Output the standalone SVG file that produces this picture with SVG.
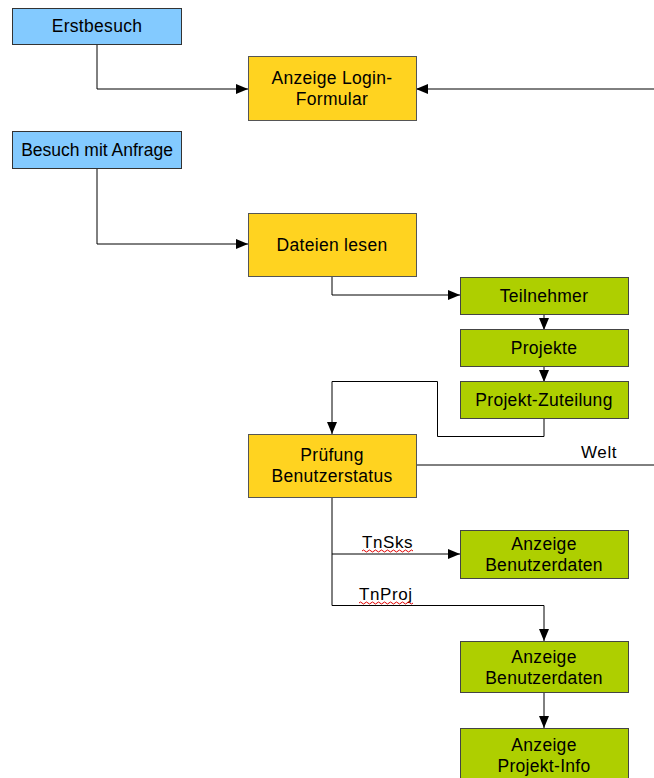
<svg xmlns="http://www.w3.org/2000/svg" width="654" height="778" viewBox="0 0 654 778">
<style>
.blue{fill:#83caff;stroke:#333;stroke-width:1}
.orange{fill:#ffd320;stroke:#555;stroke-width:1}
.green{fill:#aecf00;stroke:#444;stroke-width:1}
text{font-family:"Liberation Sans",Arial,sans-serif;font-size:17.5px;fill:#000;text-anchor:middle;letter-spacing:0.3px}
.lbl{text-anchor:start;font-size:17px;letter-spacing:0.6px}
.c{fill:none;stroke:#000;stroke-width:1}
.w{fill:none;stroke:#e00000;stroke-width:1}
</style>
<defs>
<marker id="a" viewBox="0 0 12 10" refX="12" refY="5" markerWidth="12" markerHeight="10" markerUnits="userSpaceOnUse" orient="auto">
<path d="M0,0 L12,5 L0,10 Z" fill="#000"/>
</marker>
</defs>
<rect width="654" height="778" fill="#fff"/>
<g id="connectors">
<path class="c" d="M97,44 V89 H248" marker-end="url(#a)"/>
<path class="c" d="M654,89 H416" marker-end="url(#a)"/>
<path class="c" d="M97,168 V244 H248" marker-end="url(#a)"/>
<path class="c" d="M332,276 V295 H460" marker-end="url(#a)"/>
<path class="c" d="M544,314 V330" marker-end="url(#a)"/>
<path class="c" d="M544,366 V382" marker-end="url(#a)"/>
<path class="c" d="M544,418 V436.5 H437.5 V381.5 H332 V434" marker-end="url(#a)"/>
<path class="c" d="M416,465 H654"/>
<path class="c" d="M332,497 V605.5 H544 V641" marker-end="url(#a)"/>
<path class="c" d="M332,554 H460" marker-end="url(#a)"/>
<path class="c" d="M544,692 V728" marker-end="url(#a)"/>
<text class="lbl" x="581" y="458">Welt</text>
<text class="lbl" x="362" y="548">TnSks</text>
<path class="w" d="M362,551 q1.5,-2 3,0 t3,0 t3,0 t3,0 t3,0 t3,0 t3,0 t3,0 t3,0 t3,0 t3,0 t3,0 t3,0 t3,0 t3,0 t3,0 t3,0"/>
<text class="lbl" x="359" y="600">TnProj</text>
<path class="w" d="M359,603 q1.5,-2 3,0 t3,0 t3,0 t3,0 t3,0 t3,0 t3,0 t3,0 t3,0 t3,0 t3,0 t3,0 t3,0 t3,0 t3,0 t3,0 t3,0 t3,0"/>
</g>
<g id="erstbesuch"><rect class="blue" x="12.5" y="8.5" width="169" height="36"/><text x="97" y="32">Erstbesuch</text></g>
<g id="anzeige-login"><rect class="orange" x="248.5" y="56.5" width="168" height="64"/><text x="332" y="84">Anzeige Login-</text><text x="332" y="105">Formular</text></g>
<g id="besuch-anfrage"><rect class="blue" x="12.5" y="131.5" width="169" height="37"/><text x="97" y="156" style="letter-spacing:0">Besuch mit Anfrage</text></g>
<g id="dateien-lesen"><rect class="orange" x="248.5" y="213.5" width="168" height="63"/><text x="332" y="251">Dateien lesen</text></g>
<g id="teilnehmer"><rect class="green" x="460.5" y="277.5" width="168" height="37"/><text x="544" y="302">Teilnehmer</text></g>
<g id="projekte"><rect class="green" x="460.5" y="329.5" width="168" height="37"/><text x="544" y="354">Projekte</text></g>
<g id="projekt-zuteilung"><rect class="green" x="460.5" y="381.5" width="168" height="37"/><text x="544" y="406">Projekt-Zuteilung</text></g>
<g id="pruefung"><rect class="orange" x="248.5" y="434.5" width="168" height="63"/><text x="332" y="461">Prüfung</text><text x="332" y="482">Benutzerstatus</text></g>
<g id="benutzerdaten-1"><rect class="green" x="460.5" y="530.5" width="168" height="48"/><text x="544" y="550">Anzeige</text><text x="544" y="571">Benutzerdaten</text></g>
<g id="benutzerdaten-2"><rect class="green" x="460.5" y="641.5" width="168" height="51"/><text x="544" y="663">Anzeige</text><text x="544" y="684">Benutzerdaten</text></g>
<g id="projekt-info"><rect class="green" x="460.5" y="728.5" width="168" height="60"/><text x="544" y="751">Anzeige</text><text x="544" y="772">Projekt-Info</text></g>
</svg>
